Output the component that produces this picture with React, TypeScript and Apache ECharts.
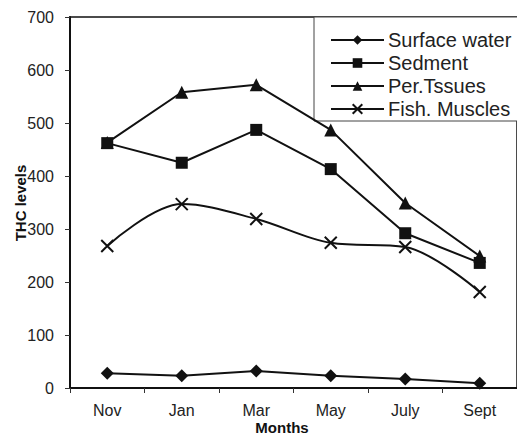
import React, { useEffect, useRef } from "react";
import * as echarts from "echarts";

const months = ["Nov", "Jan", "Mar", "May", "July", "Sept"];
const surfaceWater = [28, 23, 32, 23, 17, 9];
const sediment = [462, 425, 487, 413, 292, 236];
const perTissues = [463, 558, 572, 487, 349, 249];
const fishMuscles = [268, 347, 319, 274, 266, 181];
const yTicks = [0, 100, 200, 300, 400, 500, 600, 700];

const FONT = "'Liberation Sans', Arial, sans-serif";
const CROSS = "path://M0,0L10,10M10,0L0,10";

export default function App() {
  const ref = useRef<HTMLDivElement>(null);
  useEffect(() => {
    if (!ref.current) return;
    const chart = echarts.init(ref.current, undefined, { renderer: "svg" });
    const mk = (name: string, data: number[], symbol: string, size: number, extra: any = {}) => ({
      name,
      type: "line",
      data,
      symbol,
      symbolSize: size,
      lineStyle: { color: "#111", width: 2 },
      itemStyle: { color: "#111", borderColor: "#111", borderWidth: symbol === CROSS ? 2 : 0 },
      emphasis: { disabled: true },
      ...extra,
    });
    chart.setOption({
      animation: false,
      backgroundColor: "#fff",
      grid: { left: 70, right: 0, top: 17, bottom: 47, show: true, borderColor: "#111", borderWidth: 1.5 },
      xAxis: {
        type: "category",
        data: months,
        boundaryGap: true,
        axisLine: { lineStyle: { color: "#111", width: 2 } },
        axisTick: { show: true, length: 5, lineStyle: { color: "#333" } },
        axisLabel: { color: "#222", fontSize: 16, fontFamily: FONT, margin: 14, lineHeight: 16 },
        splitLine: { show: false },
      },
      yAxis: {
        type: "value",
        min: yTicks[0],
        max: yTicks[yTicks.length - 1],
        interval: 100,
        axisLine: { show: true, lineStyle: { color: "#111", width: 2 } },
        axisTick: { show: true, length: 5, lineStyle: { color: "#333" } },
        axisLabel: { color: "#222", fontSize: 16, fontFamily: FONT, margin: 16 },
        splitLine: { show: false },
      },
      legend: {
        orient: "vertical",
        left: 325,
        top: 25,
        itemWidth: 53,
        itemHeight: 12,
        itemGap: 3,
        textStyle: { color: "#222", fontSize: 20, lineHeight: 20, fontFamily: FONT, padding: [0, 0, 0, -1] },
        data: ["Surface water", "Sedment", "Per.Tssues", "Fish. Muscles"],
      },
      graphic: [
        {
          type: "rect",
          shape: { x: 314, y: 17, width: 220, height: 104 },
          style: { fill: "#fff", stroke: "#444", lineWidth: 1 },
          z: 0,
        },
        {
          type: "text",
          x: 20,
          y: 203,
          rotation: Math.PI / 2,
          style: {
            text: "THC levels",
            fill: "#111",
            font: `bold 15px ${FONT}`,
            align: "center",
            verticalAlign: "middle",
          },
        },
        {
          type: "text",
          x: 282,
          y: 427,
          style: {
            text: "Months",
            fill: "#111",
            font: `bold 15px ${FONT}`,
            align: "center",
            verticalAlign: "middle",
          },
        },
      ],
      series: [
        mk("Surface water", surfaceWater, "diamond", 13),
        mk("Sedment", sediment, "rect", 12),
        mk("Per.Tssues", perTissues, "triangle", 13),
        mk("Fish. Muscles", fishMuscles, CROSS, 12, { smooth: 0.35 }),
      ],
    });
    return () => chart.dispose();
  }, []);
  return <div ref={ref} style={{ width: 517, height: 435, position: "absolute", left: 0, top: 0 }} />;
}
